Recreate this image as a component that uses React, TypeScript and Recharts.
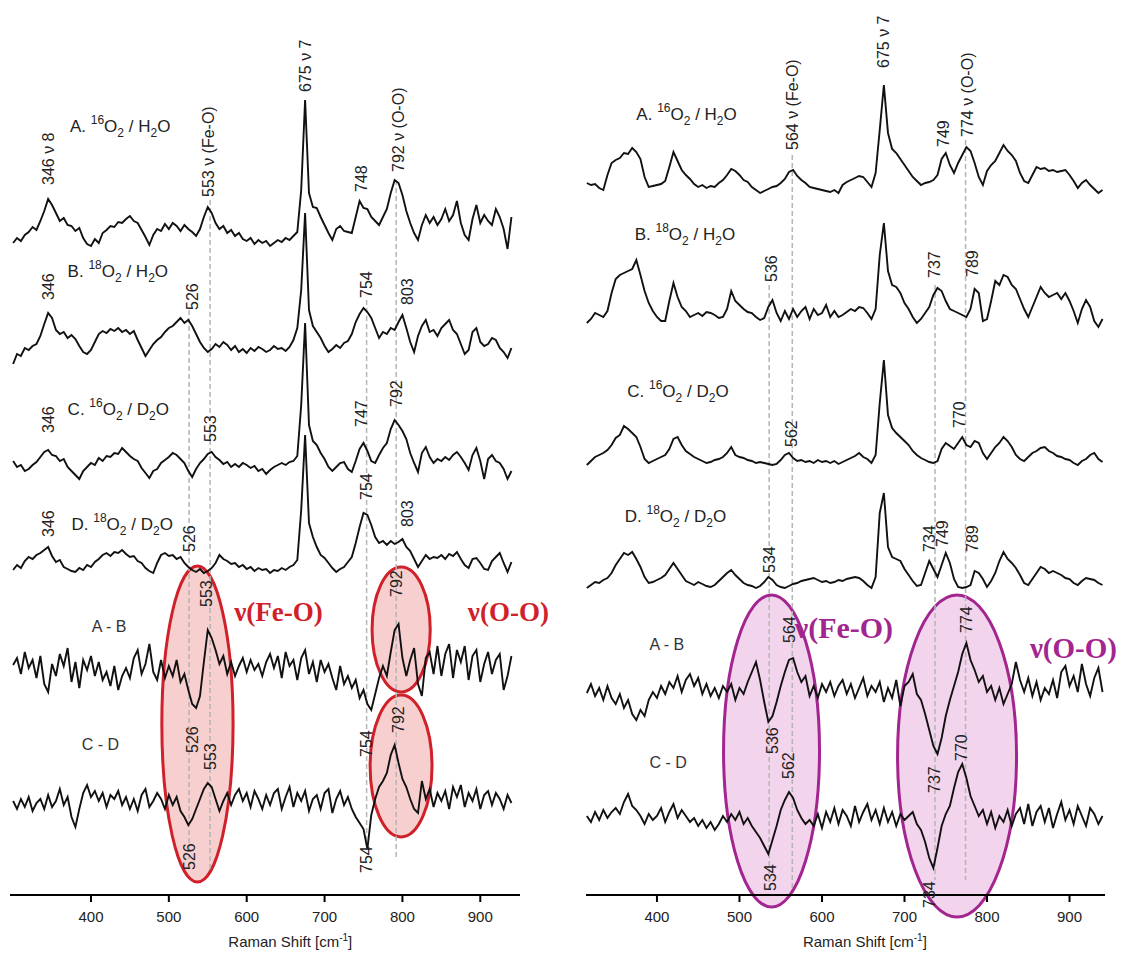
import React from 'react';
import { ComposedChart, Line, XAxis, YAxis, ReferenceLine, ReferenceArea, ReferenceDot } from 'recharts';

const SANS = "'Liberation Sans', Arial, Helvetica, sans-serif";
const SERIF = "'Liberation Serif', 'Times New Roman', serif";
const AXIS_Y = 895;
const STEP = 5;

// ---------- LEFT PANEL (intensity relative to each trace baseline) ----------
const LEFT_START = 300; // cm-1, step 5
const leftA = [
  -8, -3, -6, 0, 3, 8, 5, 14, 24, 36,
  30, 22, 14, 17, 10, 9, 4, 7, -3, -9,
  -11, -4, -8, 2, 5, 9, 8, 13, 12, 16,
  19, 14, 12, 5, -2, -10, 0, 6, 4, 11,
  6, 12, 9, 4, 10, 6, 3, -1, 6, 18,
  28, 22, 12, 6, 9, 2, 5, -1, 2, -4,
  -6, -3, -9, -5, -8, -6, -11, -8, -5, -7,
  -3, -5, -1, 3, 45, 135, 42, 28, 27, 18,
  10, 2, -5, 6, 9, 4, 3, 2, 18, 34,
  27, 26, 18, 14, 10, 18, 26, 42, 55, 52,
  40, 24, 12, 2, -5, 10, 20, 12, 18, 10,
  16, 26, 14, 20, 34, 12, 0, -5, 16, 30,
  12, 20, 14, 10, 26, 18, 6, -14, 18,
];
const leftB = [
  -24, -14, -16, -8, -10, -6, -4, 4, 16, 27,
  22, 10, 6, 8, 2, 5, 1, -6, -12, -14,
  -10, -2, 6, 9, 7, 11, 9, 12, 8, 10,
  6, 9, 0, -8, -16, -10, -4, 0, 3, 8,
  12, 14, 18, 22, 17, 20, 14, 6, -2, -8,
  -12, -9, -4, -7, -2, -5, -10, -6, -12, -9,
  -13, -8, -11, -7, -9, -12, -10, -6, -9, -8,
  -11, -7, 0, 12, 50, 127, 30, 14, 8, 2,
  -6, -12, -9, -5, -8, -3, -1, 6, 18, 26,
  32, 28, 22, 12, 2, 8, 6, 12, 10, 18,
  25, 12, -2, -12, 4, 14, 20, 8, 10, 4,
  12, 16, 20, 10, 6, -4, -14, -10, 8, 12,
  -2, -6, -4, 2, 0, -8, -12, -18, -8,
];
const leftC = [
  4, -2, 0, -6, -4, 0, 3, 8, 13, 15,
  10, 9, 4, 6, -2, -6, -10, -14, -6, -2,
  2, 0, 7, 4, 9, 8, 12, 11, 17, 13,
  9, 6, 4, -3, -8, -13, -6, -4, 2, 5,
  8, 12, 10, 6, 2, -6, -12, -4, 2, 6,
  11, 13, 8, 5, 1, 3, -2, 1, -2, 2,
  0, -3, -1, -6, -4, -9, -5, -2, 0, 2,
  0, 3, 4, 9, 60, 142, 40, 24, 20, 12,
  6, -2, -6, -2, 2, 3, -4, -7, 4, 16,
  22, 14, 4, 2, 10, 17, 22, 36, 45, 40,
  34, 26, 12, 2, -7, 12, 18, 8, 2, 6,
  4, 8, 5, 10, 13, 8, 2, -5, 10, 17,
  4, -14, 6, 10, 4, 2, -4, -14, -6,
];
const leftD = [
  -5, 0, -3, 4, 8, 6, 10, 12, 15, 18,
  9, 3, 5, -2, -4, -6, -7, -3, -5, 0,
  -2, 3, 6, 10, 12, 9, 13, 12, 15, 11,
  8, 9, 4, 2, -3, -6, -8, 2, 10, 12,
  9, 10, 6, 8, 2, -2, -5, -7, -4, -8,
  -6, -3, 2, 10, 6, 4, 1, 2, -2, 0,
  -4, -2, -6, -3, -5, -4, -8, -5, -6, -3,
  -5, -2, 0, 5, 55, 130, 42, 28, 18, 10,
  7, 2, -3, -7, -4, -2, 3, 8, 22, 38,
  52, 50, 40, 28, 22, 24, 20, 24, 21, 23,
  26, 18, 14, 6, -2, 4, 10, 6, 8, 7,
  10, 6, 11, 9, 13, 6, 0, -3, 6, 7,
  2, -4, -5, 4, 8, 12, 2, -7, 3,
];
const leftAB = [
  5, 12, -4, 18, 2, 10, -8, 14, -14, -22,
  6, -6, 16, 4, 22, -12, 8, -18, 10, 0,
  14, -6, 8, -10, -2, -16, 4, -20, -6, 2,
  -8, 12, 20, -4, 6, 26, -2, -10, 10, -8,
  4, -6, 10, -12, -4, -20, -34, -38, -26, 8,
  40, 32, 20, 6, 14, -4, 8, -6, 4, 12,
  -2, 10, 0, 6, -6, 8, 16, 2, 14, -8,
  18, 4, 10, -10, 12, 20, -4, 8, -12, 10,
  -2, 6, -8, -20, 4, -14, -6, -18, -10, -28,
  -20, -34, -40, -24, -8, 4, -6, 18, 40, 46,
  12, -6, 10, 22, -14, -26, 12, 18, -4, 24,
  -6, 16, 26, -8, 20, 8, 24, -10, 14, 20,
  -12, 6, 18, -4, 10, 16, -20, -6, 14,
];
const leftCD = [
  2, -6, 4, -4, 6, -8, 0, 4, -6, 8,
  -4, 2, 14, -2, 6, -14, -24, -6, 10, 18,
  6, 12, 2, 10, -4, 8, 4, 12, -2, 6,
  -6, 4, -8, 8, 14, -4, 2, 10, 4, -6,
  8, -2, 6, -8, -14, -22, -16, -6, 4, 14,
  20, 16, 4, -8, 2, 10, -2, 8, 14, 2,
  10, -4, 12, 4, -6, 8, -2, 10, 14, -6,
  6, 16, -4, 10, 2, 12, -8, 4, 8, -6,
  10, 14, -10, 4, 12, -2, 6, -6, -14, -20,
  -26, -46, -12, 4, 16, 22, 30, 48, 58, 40,
  24, 16, 4, -6, -10, 22, 4, 14, -4, 10,
  2, 12, -6, 16, 6, 18, -4, 10, 2, 14,
  -6, 8, 12, -2, 10, 4, -6, 8, 0,
];

// ---------- RIGHT PANEL ----------
const RIGHT_START = 315; // cm-1, step 5
const rightA = [
  2, 0, 1, -3, -5, 10, 22, 25, 27, 32,
  31, 37, 33, 26, 8, -2, -1, 0, 1, 4,
  18, 33, 24, 15, 10, 6, 1, -2, 0, -3,
  -1, -2, 2, 5, 10, 16, 14, 10, 5, 3,
  -2, -5, -8, -6, -4, -2, -1, 2, 6, 13,
  15, 9, 5, 2, -2, -3, -4, -5, -6, -7,
  -5, -8, 0, 3, 5, 7, 9, 8, 3, -2,
  12, 55, 100, 52, 36, 32, 26, 20, 14, 8,
  4, 0, 2, 3, 5, 10, 26, 32, 20, 12,
  22, 30, 38, 34, 22, 8, 0, 14, 20, 24,
  32, 40, 34, 30, 24, 12, 4, 2, 10, 18,
  16, 17, 14, 15, 13, 14, 15, 10, 4, -3,
  2, 5, 0, -4, -8, -5,
];
const rightB = [
  -8, -4, 2, 0, -2, 4, 22, 36, 40, 42,
  44, 46, 55, 40, 24, 12, 4, -2, -6, -6,
  14, 32, 18, 8, 4, -2, 0, 2, -1, 3,
  2, 0, -3, -2, 6, 24, 14, 10, 6, 3,
  2, -2, -5, -3, 8, 15, 2, -6, 4, -4,
  6, -2, 4, 8, -4, 6, 0, 2, 10, -2,
  4, -2, 0, 3, 6, 4, 8, 7, 2, -4,
  6, 60, 92, 44, 30, 28, 22, 12, 6, -2,
  -8, -4, 2, 8, 20, 27, 24, 14, 6, 4,
  2, 0, -2, 6, 26, 22, -6, -4, 14, 34,
  30, 40, 38, 30, 26, 16, 6, -2, 8, 18,
  28, 22, 18, 20, 22, 16, 22, 14, 4, -8,
  6, 15, 8, -6, -12, -4,
];
const rightC = [
  -2, 2, 6, 8, 10, 13, 18, 25, 28, 37,
  34, 30, 26, 16, 4, 0, 2, 4, 6, 8,
  14, 24, 26, 18, 12, 9, 6, 4, 2, 0,
  1, 3, 4, 6, 10, 16, 8, 6, 5, 3,
  2, 0, 1, 0, -1, -2, -1, 3, 8, 10,
  5, 2, 3, 1, 2, 0, 3, 1, 2, 0,
  2, -1, 1, 3, 5, 7, 10, 6, 4, 0,
  8, 60, 103, 48, 35, 30, 26, 22, 18, 12,
  8, 5, 3, 1, 0, 2, 14, 20, 17, 14,
  20, 26, 18, 16, 22, 20, 10, 4, 10, 16,
  20, 26, 22, 16, 8, 4, 2, 6, 10, 12,
  15, 16, 12, 10, 7, 6, 4, 3, 0, -2,
  2, 4, 8, 10, 4, 1,
];
const rightD = [
  -5, -2, 1, 0, 3, 5, 10, 18, 24, 30,
  28, 31, 24, 16, 6, 0, 1, 3, 5, 8,
  14, 20, 14, 8, 2, 0, -2, 1, -1, -3,
  -4, -2, 2, 6, 10, 13, 8, 4, 0, -2,
  -3, -5, -3, 1, 6, 3, -2, -4, -5, -3,
  -1, 0, 2, 3, 4, 5, 3, 1, 2, 0,
  1, 3, 2, 4, 5, 6, 5, 2, -2, -5,
  6, 70, 90, 36, 26, 24, 22, 14, 8, 2,
  -3, -2, 10, 22, 14, 6, 18, 30, 20, 4,
  -4, -5, -4, -2, 12, 10, 4, -4, 2, 10,
  22, 31, 24, 20, 15, 8, 0, -2, 4, 10,
  16, 14, 10, 12, 10, 8, 5, 4, 0, -2,
  2, 5, 4, 3, 0, -2,
];
const rightAB = [
  -3, 6, -6, 2, -10, 4, -8, -14, -4, -18,
  -10, -24, -30, -20, -26, -10, -2, -8, 4, -4,
  8, 2, 14, -2, 10, 16, 4, 12, -4, 6,
  -6, 2, -8, 4, -2, 6, -10, 2, -4, 8,
  18, 28, 10, -12, -32, -26, -12, 4, 18, 30,
  32, 18, 8, 14, -6, 4, -8, 6, -2, 8,
  -6, 4, 10, -4, 6, -8, 2, 12, -6, 4,
  -2, 8, -12, 2, -8, 10, -16, 4, 8, 16,
  -4, -10, -24, -40, -56, -64, -48, -26, -10, 4,
  18, 36, 47, 30, 20, 8, 14, -2, 4, -10,
  2, -14, -4, 6, 28, 10, -2, 12, -6, 8,
  -10, 2, -4, 10, -8, 18, 24, 4, 14, -2,
  26, 6, -6, 12, 22, -2,
];
const rightCD = [
  2, -4, 6, -2, 8, 0, 6, 10, 4, 16,
  24, 12, 8, 2, -6, 4, -2, 2, 10, -4,
  6, 14, 0, 8, 2, -4, 0, -8, -2, -10,
  -4, -12, -6, 2, -4, 4, -2, 6, -6, 0,
  -8, -14, -20, -28, -36, -22, -8, 8, 18, 26,
  20, 8, 0, -6, -2, -8, 4, -10, 6, -4,
  10, -6, 8, 2, -8, 12, -4, 6, 14, -2,
  8, -6, 10, -4, 6, -8, 4, -2, 2, 6,
  -6, -12, -24, -40, -50, -30, -8, 4, 12, 30,
  46, 54, 40, 22, 12, 2, 8, -6, 6, -10,
  2, -4, 8, -8, 4, 10, -6, 14, -8, 6,
  12, -4, 10, -10, 4, 16, -2, 8, -6, 12,
  2, -8, 10, 4, -6, 2,
];

const xTicks = [400, 500, 600, 700, 800, 900];
const seriesKeys = ['A', 'B', 'C', 'D', 'AB', 'CD'];

// baselines of each stacked trace (pixel row in the figure)
const leftBase: Record<string, number> = { A: 235, B: 340, C: 465, D: 565, AB: 670, CD: 803 };
const rightBase: Record<string, number> = { A: 185, B: 315, C: 463, D: 583, AB: 690, CD: 818 };

const lvl = (ypx: number) => AXIS_Y - ypx;

function buildData(start: number, arrs: Record<string, number[]>, base: Record<string, number>) {
  const n = arrs.A.length;
  const out: any[] = [];
  for (let i = 0; i < n; i++) {
    const row: any = { x: start + i * STEP };
    seriesKeys.forEach((k) => {
      const v = arrs[k][i];
      row[k] = v === undefined ? null : v + lvl(base[k]);
    });
    out.push(row);
  }
  return out;
}

const leftData = buildData(LEFT_START, { A: leftA, B: leftB, C: leftC, D: leftD, AB: leftAB, CD: leftCD }, leftBase);
const rightData = buildData(RIGHT_START, { A: rightA, B: rightB, C: rightC, D: rightD, AB: rightAB, CD: rightCD }, rightBase);

// ---------- annotations ----------
const leftPeakLabels = [
  { t: '346 ν 8', cm: 346, y: 185 }, { t: '553 ν (Fe-O)', cm: 551, y: 197 }, { t: '675 ν 7', cm: 675, y: 92 },
  { t: '748', cm: 748, y: 192 }, { t: '792 ν (O-O)', cm: 795, y: 172 },
  { t: '346', cm: 346, y: 300 }, { t: '526', cm: 530, y: 310 }, { t: '754', cm: 754, y: 298 }, { t: '803', cm: 806, y: 305 },
  { t: '346', cm: 346, y: 433 }, { t: '553', cm: 553, y: 442 }, { t: '747', cm: 748, y: 427 }, { t: '792', cm: 793, y: 407 },
  { t: '346', cm: 346, y: 537 }, { t: '526', cm: 527, y: 552 }, { t: '754', cm: 754, y: 500 }, { t: '803', cm: 806, y: 527 },
  { t: '553', cm: 549, y: 607 }, { t: '526', cm: 531, y: 753 }, { t: '553', cm: 553, y: 770 }, { t: '526', cm: 527, y: 870 },
  { t: '792', cm: 793, y: 597 }, { t: '792', cm: 795, y: 733 }, { t: '754', cm: 754, y: 757 }, { t: '754', cm: 754, y: 873 },
];
const rightPeakLabels = [
  { t: '564 ν (Fe-O)', cm: 564, y: 150 }, { t: '675 ν 7', cm: 675, y: 68 }, { t: '749', cm: 747, y: 147 },
  { t: '774 ν (O-O)', cm: 776, y: 137 },
  { t: '536', cm: 539, y: 282 }, { t: '737', cm: 736, y: 278 }, { t: '789', cm: 783, y: 277 },
  { t: '562', cm: 563, y: 447 }, { t: '770', cm: 767, y: 428 },
  { t: '534', cm: 536, y: 573 }, { t: '734', cm: 730, y: 552 }, { t: '749', cm: 746, y: 547 }, { t: '789', cm: 783, y: 552 },
  { t: '564', cm: 561, y: 643 }, { t: '536', cm: 540, y: 754 }, { t: '562', cm: 560, y: 779 }, { t: '534', cm: 538, y: 891 },
  { t: '774', cm: 775, y: 633 }, { t: '770', cm: 769, y: 761 }, { t: '737', cm: 736, y: 793 }, { t: '734', cm: 730, y: 908 },
];
const leftSampleLabels = [
  { lead: 'A.', iso: '16', solv: 'H', cm: 373, y: 132 },
  { lead: 'B.', iso: '18', solv: 'H', cm: 370, y: 277 },
  { lead: 'C.', iso: '16', solv: 'D', cm: 370, y: 415 },
  { lead: 'D.', iso: '18', solv: 'D', cm: 375, y: 530 },
];
const rightSampleLabels = [
  { lead: 'A.', iso: '16', solv: 'H', cm: 375, y: 120 },
  { lead: 'B.', iso: '18', solv: 'H', cm: 373, y: 240 },
  { lead: 'C.', iso: '16', solv: 'D', cm: 364, y: 397 },
  { lead: 'D.', iso: '18', solv: 'D', cm: 361, y: 522 },
];
const leftDiffLabels = [{ t: 'A - B', cm: 401, y: 632 }, { t: 'C - D', cm: 388, y: 750 }];
const rightDiffLabels = [{ t: 'A - B', cm: 391, y: 650 }, { t: 'C - D', cm: 391, y: 768 }];
const leftModeLabels = [{ t: 'ν(Fe-O)', cm: 584, y: 621, s: 27 }, { t: 'ν(O-O)', cm: 884, y: 621, s: 27 }];
const rightModeLabels = [{ t: 'ν(Fe-O)', cm: 567, y: 638, s: 30 }, { t: 'ν(O-O)', cm: 852, y: 658, s: 29 }];
const leftDashes = [
  { cm: 526, y1: 310, y2: 860 }, { cm: 553, y1: 200, y2: 870 },
  { cm: 754, y1: 300, y2: 845 }, { cm: 792, y1: 180, y2: 860 },
];
const rightDashes = [
  { cm: 536, y1: 285, y2: 890 }, { cm: 564, y1: 155, y2: 890 },
  { cm: 737, y1: 285, y2: 880 }, { cm: 774, y1: 140, y2: 880 },
];
const leftEllipses = [
  { x1: 491, x2: 582.5, y1: 566, y2: 882 },
  { x1: 761, x2: 835.7, y1: 567, y2: 692 },
  { x1: 758.5, x2: 838, y1: 695, y2: 837 },
];
const rightEllipses = [
  { x1: 480.7, x2: 597, y1: 595, y2: 907 },
  { x1: 691.6, x2: 835.8, y1: 595, y2: 917 },
];

// ---------- shapes ----------
const rotText = (t: string) => (p: any) => (
  <text x={p.cx} y={p.cy} transform={`rotate(-90 ${p.cx} ${p.cy})`} fontSize={16} fill="#222"
    fontFamily={SANS} dominantBaseline="central" textAnchor="start">{t}</text>
);
const sampleText = (lead: string, iso: string, solv: string) => (p: any) => (
  <text x={p.cx} y={p.cy} fontSize={17} fill="#222" fontFamily={SANS}>
    <tspan>{lead + ' '}</tspan>
    <tspan fontSize={12} dy={-8}>{iso}</tspan>
    <tspan dy={8}>O</tspan>
    <tspan fontSize={12} dy={5}>2</tspan>
    <tspan dy={-5}>{' / ' + solv}</tspan>
    <tspan fontSize={12} dy={5}>2</tspan>
    <tspan dy={-5}>O</tspan>
  </text>
);
const plainText = (t: string) => (p: any) => (
  <text x={p.cx} y={p.cy} fontSize={16} fill="#333" fontFamily={SANS}>{t}</text>
);
const modeText = (t: string, color: string, size: number) => (p: any) => (
  <text x={p.cx} y={p.cy} fontSize={size} fontWeight="bold" fill={color} fontFamily={SERIF}>{t}</text>
);
const titleText = (p: any) => (
  <text x={p.cx} y={p.cy} fontSize={15} fill="#222" fontFamily={SANS} textAnchor="middle">
    Raman Shift [cm<tspan fontSize={10} dy={-6}>-1</tspan><tspan dy={6}>]</tspan>
  </text>
);
const ellipseShape = (stroke: string, fill: string) => (p: any) => (
  <ellipse cx={p.x + p.width / 2} cy={p.y + p.height / 2} rx={Math.abs(p.width) / 2} ry={Math.abs(p.height) / 2}
    fill={fill} stroke={stroke} strokeWidth={3} />
);

type PanelProps = {
  left: number; width: number; mLeft: number; mRight: number; domain: [number, number];
  data: any[]; peakLabels: any[]; sampleLabels: any[]; diffLabels: any[]; modeLabels: any[];
  dashes: any[]; ellipses: any[]; stroke: string; fill: string; titleCm: number;
};

function Panel(pp: PanelProps) {
  return (
    <div style={{ position: 'absolute', left: pp.left, top: 0 }}>
      <ComposedChart width={pp.width} height={959} data={pp.data}
        margin={{ top: 0, right: pp.mRight, bottom: 14, left: pp.mLeft }}>
        <XAxis dataKey="x" type="number" domain={pp.domain} allowDataOverflow ticks={xTicks}
          tick={{ fontSize: 15, fill: '#222', fontFamily: SANS }} tickSize={7} tickMargin={9} height={50}
          axisLine={{ stroke: '#000', strokeWidth: 2 }} tickLine={{ stroke: '#000', strokeWidth: 2 }} />
        <YAxis hide width={0} type="number" domain={[0, AXIS_Y]} allowDataOverflow />
        {pp.ellipses.map((e, i) => (
          <ReferenceArea key={'e' + i} x1={e.x1} x2={e.x2} y1={lvl(e.y2)} y2={lvl(e.y1)} ifOverflow="visible"
            shape={ellipseShape(pp.stroke, pp.fill)} />
        ))}
        {pp.dashes.map((d, i) => (
          <ReferenceLine key={'d' + i} segment={[{ x: d.cm, y: lvl(d.y1) }, { x: d.cm, y: lvl(d.y2) }]}
            stroke="#b4b4b4" strokeWidth={1.5} strokeDasharray="5 3" ifOverflow="visible" />
        ))}
        {seriesKeys.map((k) => (
          <Line key={k} dataKey={k} type="linear" stroke="#111" strokeWidth={1.9} dot={false}
            isAnimationActive={false} connectNulls />
        ))}
        {pp.peakLabels.map((l, i) => (
          <ReferenceDot key={'p' + i} x={l.cm} y={lvl(l.y)} r={0} ifOverflow="visible" shape={rotText(l.t)} />
        ))}
        {pp.sampleLabels.map((l, i) => (
          <ReferenceDot key={'s' + i} x={l.cm} y={lvl(l.y)} r={0} ifOverflow="visible"
            shape={sampleText(l.lead, l.iso, l.solv)} />
        ))}
        {pp.diffLabels.map((l, i) => (
          <ReferenceDot key={'f' + i} x={l.cm} y={lvl(l.y)} r={0} ifOverflow="visible" shape={plainText(l.t)} />
        ))}
        {pp.modeLabels.map((l, i) => (
          <ReferenceDot key={'m' + i} x={l.cm} y={lvl(l.y)} r={0} ifOverflow="visible"
            shape={modeText(l.t, pp.stroke, l.s)} />
        ))}
        <ReferenceDot x={pp.titleCm} y={lvl(947)} r={0} ifOverflow="visible" shape={titleText} />
      </ComposedChart>
    </div>
  );
}

export default function App() {
  return (
    <div style={{ position: 'absolute', left: 0, top: 0, width: 1123, height: 959, background: '#fff', overflow: 'hidden' }}>
      <Panel left={0} width={560} mLeft={10} mRight={40} domain={[296, 951]} data={leftData}
        peakLabels={leftPeakLabels} sampleLabels={leftSampleLabels} diffLabels={leftDiffLabels}
        modeLabels={leftModeLabels} dashes={leftDashes} ellipses={leftEllipses}
        stroke="#d0212a" fill="rgba(238,140,140,0.42)" titleCm={656} />
      <Panel left={560} width={563} mLeft={26} mRight={18} domain={[314, 943]} data={rightData}
        peakLabels={rightPeakLabels} sampleLabels={rightSampleLabels} diffLabels={rightDiffLabels}
        modeLabels={rightModeLabels} dashes={rightDashes} ellipses={rightEllipses}
        stroke="#a3258f" fill="rgba(228,160,215,0.45)" titleCm={652} />
    </div>
  );
}
